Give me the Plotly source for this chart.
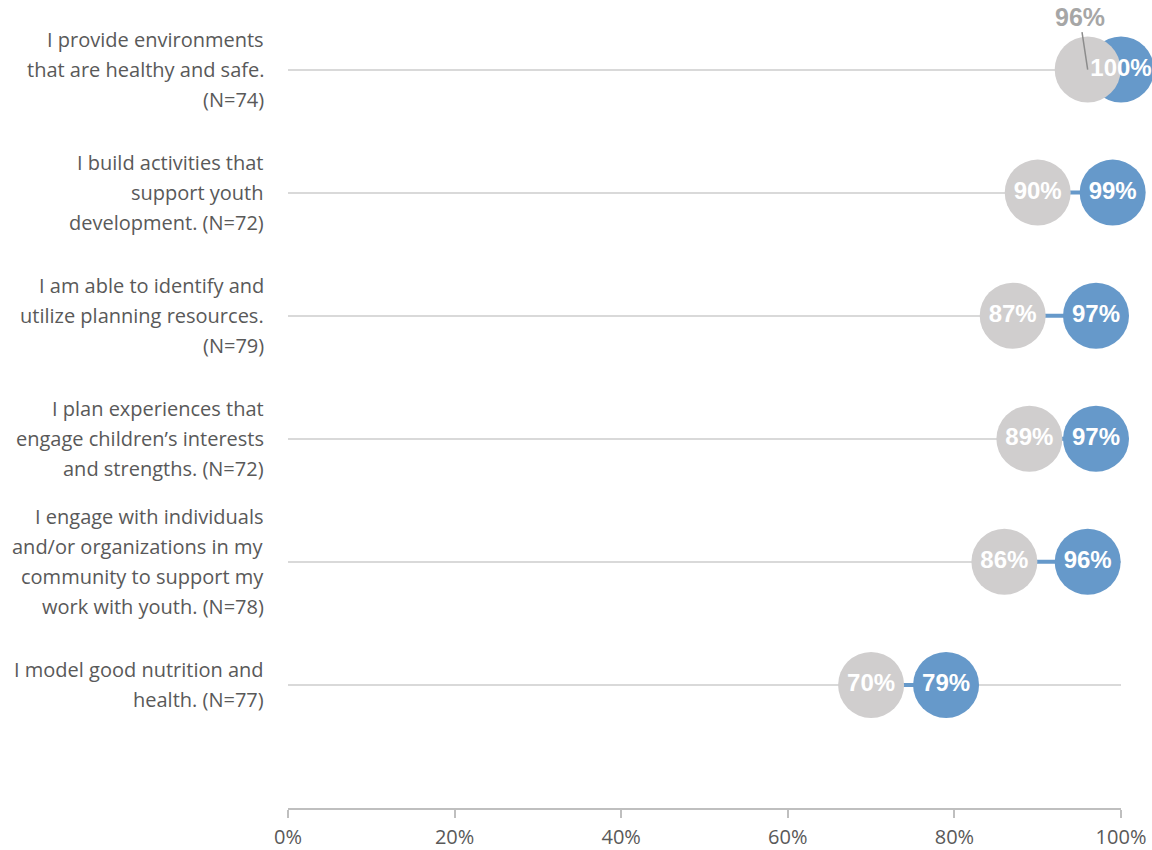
import plotly.graph_objects as go

# Survey items (top to bottom) and their percentages
categories = [
    "I provide environments<br>that are healthy and safe.<br>(N=74)",
    "I build activities that<br>support youth<br>development. (N=72)",
    "I am able to identify and<br>utilize planning resources.<br>(N=79)",
    "I plan experiences that<br>engage children\u2019s interests<br>and strengths. (N=72)",
    "I engage with individuals<br>and/or organizations in my<br>community to support my<br>work with youth. (N=78)",
    "I model good nutrition and<br>health. (N=77)",
]
before = [96, 90, 87, 89, 86, 70]
after = [100, 99, 97, 97, 96, 79]
x_ticks = [0, 20, 40, 60, 80, 100]
x_tick_labels = ["0%", "20%", "40%", "60%", "80%", "100%"]

GRAY = "#D0CECE"
BLUE = "#6699CA"
TEXT = "#595959"
LABEL_FONT = "Liberation Sans, Arial, sans-serif"
CAT_FONT = "Open Sans, Carlito, Calibri, sans-serif"

n = len(categories)
rows = [n - i for i in range(n)]  # 6 at top, 1 at bottom

fig = go.Figure()

# Blue connectors between the two values of each item
cx, cy = [], []
for b, a, r in zip(before, after, rows):
    cx += [b, a, None]
    cy += [r, r, None]
fig.add_trace(go.Scatter(x=cx, y=cy, mode="lines",
                         line=dict(color=BLUE, width=4),
                         hoverinfo="skip", showlegend=False, cliponaxis=False))

# Markers: blue behind, gray on top
fig.add_trace(go.Scatter(x=after, y=rows, mode="markers",
                         marker=dict(size=66, color=BLUE, line=dict(width=0)),
                         showlegend=False, cliponaxis=False))
fig.add_trace(go.Scatter(x=before, y=rows, mode="markers",
                         marker=dict(size=66, color=GRAY, line=dict(width=0)),
                         showlegend=False, cliponaxis=False))

# Value labels inside the circles (first gray value is placed above instead)
label_font = dict(family=LABEL_FONT, size=24, color="white", weight="bold")
fig.add_trace(go.Scatter(x=before[1:], y=rows[1:], mode="text",
                         text=[f"{v}%" for v in before[1:]],
                         textposition="middle center", textfont=label_font,
                         showlegend=False, cliponaxis=False))
fig.add_trace(go.Scatter(x=after, y=rows, mode="text",
                         text=[f"{v}%" for v in after],
                         textposition="middle center", textfont=label_font,
                         showlegend=False, cliponaxis=False))

# Callout for the overlapping first gray value
fig.add_annotation(x=before[0], y=rows[0], text=f"<b>{before[0]}%</b>",
                   showarrow=True, arrowhead=0, arrowwidth=1.5,
                   arrowcolor="#8C8C8C", ax=-8, ay=-53,
                   font=dict(family=LABEL_FONT, size=25, color="#A6A6A6"))

# Category labels, one annotation per line for even spacing
LINE_GAP = 30
for cat, r in zip(categories, rows):
    lines = cat.split("<br>")
    k = len(lines)
    for j, ln in enumerate(lines):
        fig.add_annotation(xref="paper", x=0, y=r, text=ln, showarrow=False,
                           xanchor="right", yanchor="middle", xshift=-22,
                           yshift=((k - 1) / 2 - j) * LINE_GAP,
                           font=dict(family=CAT_FONT, size=20, color=TEXT))

fig.update_layout(
    width=1152, height=850,
    margin=dict(l=288, r=31, t=8, b=42, autoexpand=False),
    paper_bgcolor="white", plot_bgcolor="white",
    showlegend=False,
    xaxis=dict(range=[0, 100], tickvals=x_ticks, ticktext=x_tick_labels,
               showgrid=False, zeroline=False, automargin=False,
               showline=True, linecolor="#BFBFBF", linewidth=2,
               ticks="outside", ticklen=8, tickwidth=2, tickcolor="#BFBFBF",
               ticklabelstandoff=2,
               tickfont=dict(family=CAT_FONT, size=20, color=TEXT),
               fixedrange=True),
    yaxis=dict(range=[0, 6.5], tickvals=rows, showticklabels=False,
               showgrid=True, gridcolor="#D9D9D9", gridwidth=2,
               zeroline=False, showline=False, automargin=False,
               fixedrange=True),
)

fig.write_html("out.html")
